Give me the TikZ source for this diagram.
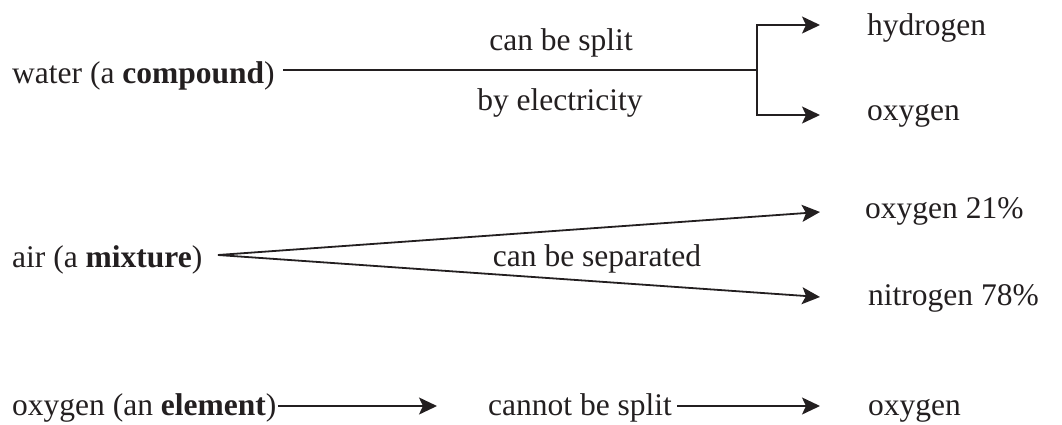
\documentclass[tikz,border=0pt]{standalone}
\usepackage{fontspec}
\setmainfont{Liberation Serif}
\usetikzlibrary{arrows.meta}
\definecolor{ink}{RGB}{35,31,32}
\begin{document}
\begin{tikzpicture}[x=1pt,y=-1pt,
  lbl/.style={inner sep=0pt, anchor=base west, text=ink, font=\fontsize{31.5}{38}\selectfont},
  mid/.style={lbl, anchor=base},
  conn/.style={line width=1.8pt, draw=ink},
  arr/.style={conn, -{Stealth[length=18pt,width=17pt,inset=4pt]}}]
\useasboundingbox (0,0) rectangle (1062,424);
% row 1
\node[lbl] (water) at (12,83) {water (a \textbf{compound})};
\node[lbl] (hyd) at (867,35) {hydrogen};
\node[lbl] (oxy1) at (867,120) {oxygen};
\node[mid] (split) at (561,50) {can be split};
\node[mid] (elec) at (560,110) {by electricity};
\coordinate (w0) at (283,70);
\coordinate (br) at (757,70);
\coordinate (t1) at (820,25);
\coordinate (t2) at (820,115);
\draw[conn] (w0) -- (br);
\draw[arr] (br) |- (t1);
\draw[arr] (br) |- (t2);
% row 2
\node[lbl] (air) at (12,267) {air (a \textbf{mixture})};
\node[lbl] (oxy2) at (865,218) {oxygen 21\%};
\node[lbl] (nit) at (868,305) {nitrogen 78\%};
\node[mid] (sep) at (597,266) {can be separated};
\coordinate (a0) at (218,255);
\coordinate (t3) at (820,212);
\coordinate (t4) at (820,297);
\draw[arr] (a0) -- (t3);
\draw[arr] (a0) -- (t4);
% row 3
\node[lbl] (elem) at (12,415) {oxygen (an \textbf{element})};
\node[lbl] (cannot) at (488,415) {cannot be split};
\node[lbl] (oxy3) at (868,415) {oxygen};
\coordinate (e0) at (278,406);
\coordinate (t5) at (437,406);
\coordinate (c0) at (677,406);
\coordinate (t6) at (820,406);
\draw[arr] (e0) -- (t5);
\draw[arr] (c0) -- (t6);
\end{tikzpicture}
\end{document}
